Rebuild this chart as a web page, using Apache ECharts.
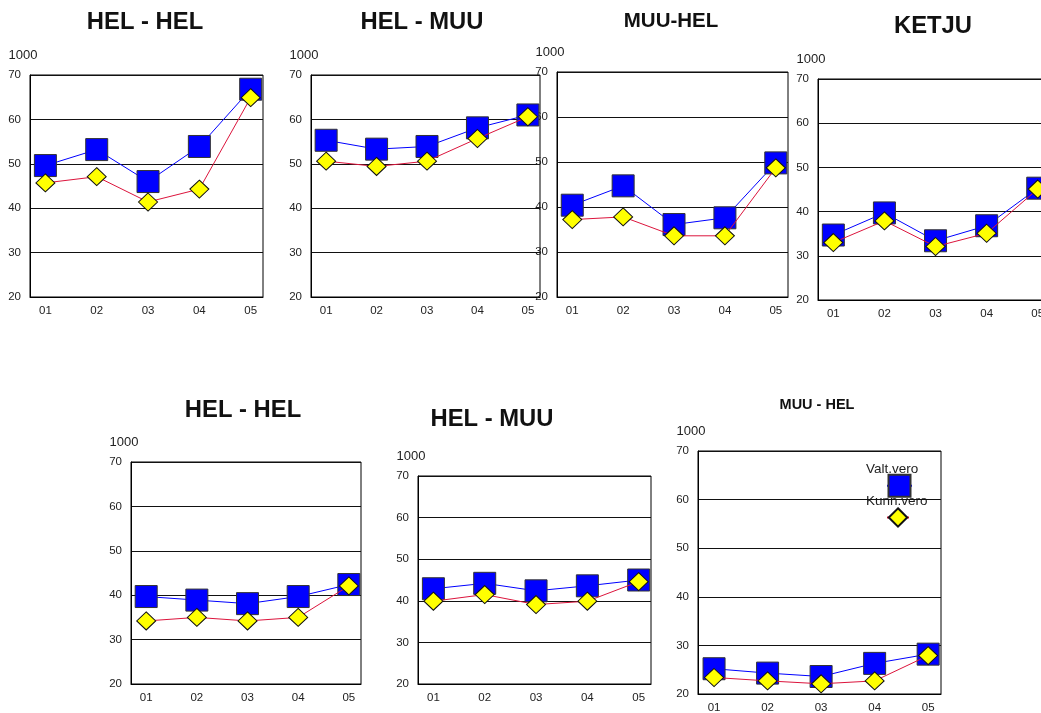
<!DOCTYPE html>
<html>
<head>
<meta charset="utf-8">
<script src="https://cdn.jsdelivr.net/npm/echarts@6/dist/echarts.min.js"></script>
<style>
html,body{margin:0;padding:0;background:#fff;}
#c{width:1041px;height:713px;}
</style>
</head>
<body>
<div id="c"></div>
<script>
// ---- data ----
const categories = ['01', '02', '03', '04', '05'];
const seriesNames = ['Valt.vero', 'Kunn.vero'];
const unitLabel = '1000';
const yTicks = [20, 30, 40, 50, 60, 70];

const panelTitles = ['HEL - HEL', 'HEL - MUU', 'MUU-HEL', 'KETJU', 'HEL - HEL', 'HEL - MUU', 'MUU - HEL'];

const valtHelHel1 = [49.6, 53.2, 46.0, 53.9, 66.8];
const kunnHelHel1 = [45.7, 47.1, 41.4, 44.3, 64.9];
const valtHelMuu1 = [55.3, 53.3, 53.9, 58.1, 61.0];
const kunnHelMuu1 = [50.6, 49.4, 50.6, 55.7, 60.6];
const valtMuuHel1 = [40.4, 44.7, 36.1, 37.6, 49.8];
const kunnMuuHel1 = [37.2, 37.8, 33.6, 33.6, 48.7];
const valtKetju   = [34.7, 39.7, 33.4, 36.8, 45.3];
const kunnKetju   = [33.0, 37.9, 32.1, 35.1, 45.1];
const valtHelHel2 = [39.7, 38.9, 38.1, 39.7, 42.4];
const kunnHelHel2 = [34.2, 35.0, 34.2, 35.0, 42.1];
const valtHelMuu2 = [42.9, 44.2, 42.4, 43.6, 45.0];
const kunnHelMuu2 = [39.9, 41.5, 39.1, 39.9, 44.6];
const valtMuuHel2 = [25.2, 24.3, 23.6, 26.3, 28.2];
const kunnMuuHel2 = [23.4, 22.7, 22.1, 22.7, 27.9];

const panelValt = [valtHelHel1, valtHelMuu1, valtMuuHel1, valtKetju, valtHelHel2, valtHelMuu2, valtMuuHel2];
const panelKunn = [kunnHelHel1, kunnHelMuu1, kunnMuuHel1, kunnKetju, kunnHelHel2, kunnHelMuu2, kunnMuuHel2];

// ---- layout (pixels) ----
const grids = [
  {left: 30,  top: 75,  width: 233, height: 222},
  {left: 311, top: 75,  width: 229, height: 222},
  {left: 557, top: 72,  width: 231, height: 225},
  {left: 818, top: 79,  width: 232, height: 221},
  {left: 131, top: 462, width: 230, height: 222},
  {left: 418, top: 476, width: 233, height: 208},
  {left: 698, top: 451, width: 243, height: 243}
];
const titlePos = [
  {cx: 145, top: 10, size: 23.8},
  {cx: 422, top: 10, size: 23.8},
  {cx: 671, top: 11, size: 20.5},
  {cx: 933, top: 14, size: 23.8},
  {cx: 243, top: 398, size: 23.8},
  {cx: 492, top: 407, size: 23.8},
  {cx: 817, top: 397, size: 14.5}
];

const FONT = 'Liberation Sans, Arial, sans-serif';
const chart = echarts.init(document.getElementById('c'), null, {renderer: 'canvas'});

const option = {
  animation: false,
  backgroundColor: '#fff',
  title: [], grid: [], xAxis: [], yAxis: [], series: [],
  legend: [
    {
      data: [seriesNames[0]], left: 886, top: 472, padding: 0,
      itemWidth: 25, itemHeight: 27.5, formatter: () => '',
      selectedMode: false
    },
    {
      data: [seriesNames[1]], left: 886, top: 506, padding: 0,
      itemWidth: 22, itemHeight: 23, formatter: () => '',
      selectedMode: false
    }
  ],
  graphic: [
    {type: 'text', left: 866, top: 462, style: {text: seriesNames[0], font: '13.5px ' + FONT, fill: '#222'}},
    {type: 'text', left: 866, top: 494, style: {text: seriesNames[1], font: '13.5px ' + FONT, fill: '#222'}}
  ]
};

for (let i = 0; i < 7; i++) {
  const g = grids[i];
  option.title.push({
    text: panelTitles[i], left: titlePos[i].cx, top: titlePos[i].top, padding: 0,
    textAlign: 'center',
    textStyle: {fontFamily: FONT, fontWeight: 'bold', fontSize: titlePos[i].size, color: '#111'}
  });
  option.grid.push({
    left: g.left, top: g.top, width: g.width, height: g.height,
    show: true, borderColor: '#000', borderWidth: 1, backgroundColor: 'transparent',
    outerBoundsMode: 'none', containLabel: false
  });
  option.xAxis.push({
    type: 'value', gridIndex: i, min: 0.7, max: 5.24,
    splitLine: {show: false},
    axisLine: {show: true, lineStyle: {color: '#000', width: 1}},
    axisTick: {show: false},
    axisLabel: {
      customValues: [1, 2, 3, 4, 5],
      formatter: v => categories[Math.round(v) - 1] || '',
      fontFamily: FONT, fontSize: 11.5, color: '#222', margin: 8
    }
  });
  option.yAxis.push({
    type: 'value', gridIndex: i, min: yTicks[0], max: yTicks[yTicks.length - 1], interval: 10,
    name: unitLabel, nameLocation: 'end', nameGap: 13,
    nameTextStyle: {fontFamily: FONT, fontSize: 13, color: '#222', align: 'center', padding: [0, 14, 0, 0]},
    splitLine: {show: true, lineStyle: {color: '#111', width: 1}},
    axisLine: {show: true, lineStyle: {color: '#000', width: 1}},
    axisTick: {show: false},
    axisLabel: {fontFamily: FONT, fontSize: 11.5, color: '#222', margin: 9}
  });
  option.series.push({
    name: seriesNames[0], type: 'line', xAxisIndex: i, yAxisIndex: i,
    data: panelValt[i].map((v, k) => [k + 1, v]),
    symbol: 'rect', symbolSize: 22,
    lineStyle: {color: '#0000ff', width: 1},
    itemStyle: {color: '#0000ff', borderColor: '#333', borderWidth: 1},
    emphasis: {disabled: true}, z: 2
  });
  option.series.push({
    name: seriesNames[1], type: 'line', xAxisIndex: i, yAxisIndex: i,
    data: panelKunn[i].map((v, k) => [k + 1, v]),
    symbol: 'diamond', symbolSize: [19, 18],
    lineStyle: {color: '#dc143c', width: 1},
    itemStyle: {color: '#ffff00', borderColor: '#111', borderWidth: 1},
    emphasis: {disabled: true}, z: 3
  });
}

chart.setOption(option);
</script>
</body>
</html>
